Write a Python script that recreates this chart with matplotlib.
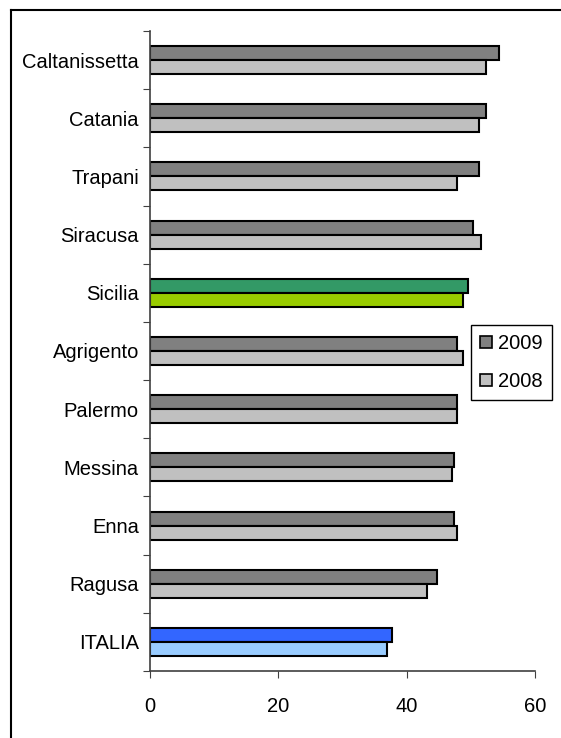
import matplotlib
matplotlib.use('Agg')
import matplotlib.pyplot as plt
import numpy as np
from matplotlib.patches import Patch
from matplotlib.lines import Line2D

plt.rcParams['font.family'] = ['Liberation Sans', 'DejaVu Sans']

provinces = ['Caltanissetta', 'Catania', 'Trapani', 'Siracusa', 'Sicilia', 'Agrigento',
             'Palermo', 'Messina', 'Enna', 'Ragusa', 'ITALIA']
val_2009 = [54.4, 52.3, 51.3, 50.4, 49.5, 47.9, 47.9, 47.3, 47.3, 44.8, 37.7]
val_2008 = [52.3, 51.3, 47.9, 51.6, 48.8, 48.8, 47.9, 47.0, 47.9, 43.2, 37.0]

col_2009 = ['#808080'] * len(provinces)
col_2008 = ['#C0C0C0'] * len(provinces)
col_2009[provinces.index('Sicilia')] = '#339966'
col_2008[provinces.index('Sicilia')] = '#99CC00'
col_2009[provinces.index('ITALIA')] = '#3366FF'
col_2008[provinces.index('ITALIA')] = '#99CCFF'

fig = plt.figure(figsize=(5.61, 7.38), dpi=100)
ax = fig.add_axes([150 / 561, 1 - 671 / 738, 385 / 561, 640 / 738])

y = np.arange(len(provinces))
h = 0.24
ax.barh(y - h / 2, val_2009, height=h, color=col_2009, edgecolor='black', linewidth=1.5)
ax.barh(y + h / 2, val_2008, height=h, color=col_2008, edgecolor='black', linewidth=1.5)

ax.set_xlim(0, 60)
ax.set_ylim(len(provinces) - 0.5, -0.5)
ax.set_xticks([0, 20, 40, 60])
ax.tick_params(axis='x', labelsize=14.5, length=5, pad=14, color='#404040')

# ticks at the category borders, labels in the middle
ax.set_yticks(np.arange(len(provinces) + 1) - 0.5)
ax.set_yticklabels([])
ax.set_yticks(y, minor=True)
ax.set_yticklabels(provinces, minor=True)
ax.tick_params(axis='y', which='major', length=5, color='#404040')
ax.tick_params(axis='y', which='minor', length=0, pad=8, labelsize=14.5)

for s in ['top', 'right']:
    ax.spines[s].set_visible(False)
for s in ['left', 'bottom']:
    ax.spines[s].set_color('#404040')
    ax.spines[s].set_linewidth(1.2)

handles = [Patch(facecolor='#808080', edgecolor='black', linewidth=1.2, label='2009'),
           Patch(facecolor='#C0C0C0', edgecolor='black', linewidth=1.2, label='2008')]
leg = fig.legend(handles=handles, loc='upper left', bbox_to_anchor=(471 / 561, 1 - 325 / 738),
                 fontsize=14.5, handlelength=0.6, handleheight=0.6, handletextpad=0.3,
                 labelspacing=0.95, borderpad=0.45, fancybox=False, framealpha=1,
                 borderaxespad=0)
leg.get_frame().set_edgecolor('black')
leg.get_frame().set_linewidth(1.0)

# outer frame (only top and left visible)
fig.add_artist(Line2D([11 / 561, 1], [1 - 10 / 738, 1 - 10 / 738], color='black', linewidth=1.5,
                      transform=fig.transFigure))
fig.add_artist(Line2D([11 / 561, 11 / 561], [0, 1 - 10 / 738], color='black', linewidth=1.5,
                      transform=fig.transFigure))

fig.savefig('out.png', dpi=100)
